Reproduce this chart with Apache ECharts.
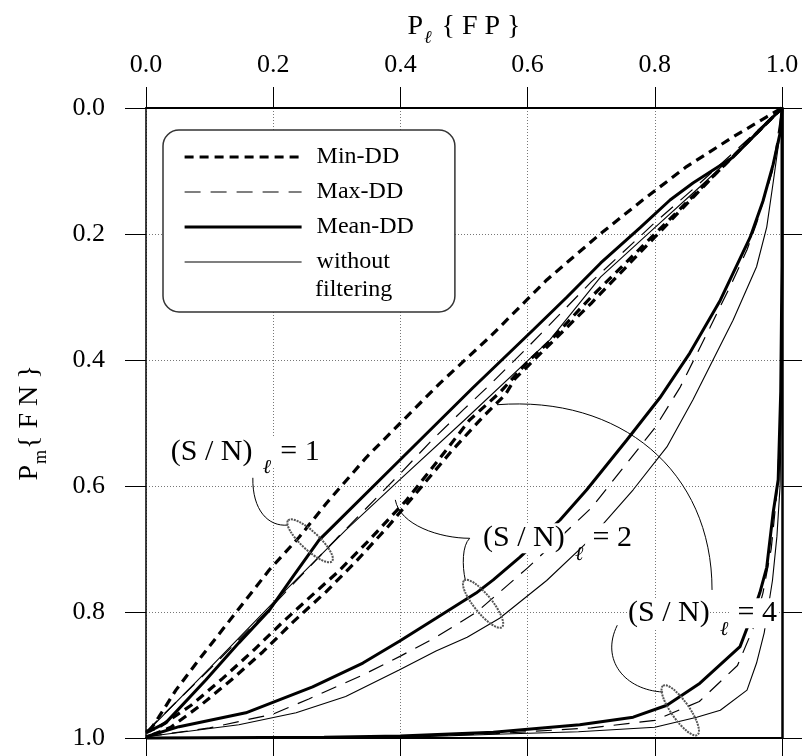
<!DOCTYPE html>
<html>
<head>
<meta charset="utf-8">
<title>P_m{FN} versus P_l{FP}</title>
<script src="https://cdn.jsdelivr.net/npm/echarts@6/dist/echarts.min.js"></script>
<style>
html, body { margin: 0; padding: 0; background: #fff; }
#chart { width: 802px; height: 756px; }
</style>
</head>
<body>
<div id="chart"></div>
<script>
// points are [P_l{FP}, P_m{FN}]
const tickLabels = ['0.0', '0.2', '0.4', '0.6', '0.8', '1.0'];
const legendNames = ['Min-DD', 'Max-DD', 'Mean-DD', 'without filtering'];

// (S/N)_l = 1
const minDD1 = [[0.005, 0.99], [0.02, 0.967], [0.047, 0.924], [0.083, 0.876], [0.142, 0.80], [0.194, 0.733], [0.241, 0.681], [0.284, 0.627], [0.347, 0.554], [0.40, 0.50], [0.462, 0.437], [0.541, 0.363], [0.63, 0.273], [0.714, 0.2], [0.781, 0.146], [0.85, 0.093], [0.923, 0.046], [0.976, 0.014], [1, 0]];
const maxDD1 = [[0, 0.99], [0.1, 0.891], [0.2, 0.789], [0.3, 0.683], [0.4, 0.58], [0.45, 0.527], [0.5, 0.478], [0.54, 0.44], [0.6, 0.38], [0.7, 0.276], [0.8, 0.182], [0.87, 0.12], [0.93, 0.065], [1, 0]];
const meanDD1 = [[0, 0.992], [0.031, 0.976], [0.094, 0.908], [0.146, 0.849], [0.194, 0.797], [0.231, 0.744], [0.272, 0.686], [0.4, 0.558], [0.514, 0.444], [0.609, 0.352], [0.662, 0.3], [0.715, 0.246], [0.777, 0.19], [0.824, 0.146], [0.86, 0.119], [0.923, 0.078], [0.97, 0.03], [1, 0]];
const noFilt1 = [[0, 0.992], [0.1, 0.889], [0.2, 0.785], [0.314, 0.67], [0.4, 0.589], [0.5, 0.496], [0.635, 0.368], [0.715, 0.268], [0.8, 0.19], [0.871, 0.125], [0.94, 0.06], [1, 0]];

// (S/N)_l = 2
const minDD2 = [[0, 0.99], [0.02, 0.983], [0.071, 0.948], [0.121, 0.905], [0.17, 0.86], [0.215, 0.816], [0.267, 0.768], [0.30, 0.738], [0.347, 0.69], [0.41, 0.622], [0.462, 0.556], [0.509, 0.495], [0.557, 0.451], [0.6, 0.403], [0.635, 0.37], [0.7, 0.3], [0.8, 0.2], [0.9, 0.1], [1, 0]];
const maxDD2 = [[0, 0.998], [0.1, 0.984], [0.2, 0.962], [0.256, 0.938], [0.341, 0.9], [0.4, 0.87], [0.456, 0.84], [0.52, 0.8], [0.6, 0.73], [0.7, 0.635], [0.8, 0.508], [0.84, 0.443], [0.887, 0.348], [0.92, 0.28], [0.945, 0.225], [0.96, 0.183], [0.985, 0.1], [1, 0]];
const meanDD2 = [[0, 0.998], [0.052, 0.982], [0.157, 0.96], [0.262, 0.919], [0.341, 0.881], [0.399, 0.846], [0.456, 0.81], [0.519, 0.77], [0.546, 0.749], [0.588, 0.713], [0.651, 0.654], [0.693, 0.606], [0.756, 0.527], [0.808, 0.46], [0.855, 0.389], [0.903, 0.305], [0.95, 0.205], [0.97, 0.148], [0.986, 0.09], [0.997, 0.04], [1, 0]];
const noFilt2 = [[0, 0.998], [0.146, 0.979], [0.236, 0.96], [0.314, 0.934], [0.398, 0.892], [0.456, 0.862], [0.505, 0.84], [0.556, 0.81], [0.63, 0.75], [0.693, 0.69], [0.766, 0.606], [0.819, 0.538], [0.86, 0.463], [0.923, 0.337], [0.96, 0.252], [0.976, 0.189], [0.986, 0.119], [0.997, 0.04], [1, 0]];

// (S/N)_l = 4
const minDD4 = [[0.01, 0.995], [0.039, 0.983], [0.086, 0.948], [0.134, 0.908], [0.184, 0.863], [0.231, 0.816], [0.283, 0.768], [0.33, 0.72], [0.38, 0.665], [0.43, 0.605], [0.48, 0.545], [0.53, 0.49], [0.565, 0.455], [0.58, 0.43], [0.62, 0.39], [0.7, 0.31], [0.8, 0.205], [0.9, 0.1], [1, 0]];
const maxDD4 = [[0, 1], [0.4, 0.998], [0.55, 0.993], [0.7, 0.984], [0.8, 0.972], [0.87, 0.942], [0.93, 0.885], [0.955, 0.825], [0.97, 0.77], [0.983, 0.7], [0.993, 0.6], [0.998, 0.45], [1, 0.2], [1, 0]];
const meanDD4 = [[0, 1], [0.28, 0.999], [0.4, 0.997], [0.546, 0.991], [0.682, 0.979], [0.766, 0.967], [0.819, 0.948], [0.871, 0.913], [0.934, 0.855], [0.954, 0.802], [0.965, 0.77], [0.976, 0.729], [0.986, 0.643], [0.994, 0.59], [0.998, 0.45], [1, 0.25], [1, 0]];
const noFilt4 = [[0, 1], [0.4, 0.999], [0.55, 0.994], [0.68, 0.99], [0.8, 0.983], [0.866, 0.967], [0.903, 0.956], [0.945, 0.924], [0.96, 0.881], [0.972, 0.833], [0.985, 0.75], [0.992, 0.68], [0.997, 0.6], [1, 0.4], [1, 0]];

// annotations (data coords)
const snLabels = [
  { k: '1', at: [0.039, 0.546] },
  { k: '2', at: [0.530, 0.683] },
  { k: '4', at: [0.758, 0.802] }
];
const rings = [
  { at: [0.258, 0.687], angle: -43 },
  { at: [0.530, 0.787], angle: -51 },
  { at: [0.840, 0.956], angle: -55 }
];
const leaders = [
  [[0.168, 0.587], [0.167, 0.638], [0.192, 0.665], [0.223, 0.662]],
  [[0.392, 0.622], [0.399, 0.662], [0.462, 0.683], [0.509, 0.683]],
  [[0.509, 0.683], [0.497, 0.694], [0.497, 0.727], [0.502, 0.749]],
  [[0.890, 0.765], [0.890, 0.575], [0.745, 0.456], [0.552, 0.471]],
  [[0.741, 0.821], [0.714, 0.876], [0.753, 0.924], [0.813, 0.927]]
];

const serif = "'Liberation Serif', 'DejaVu Serif', serif";
const lineStyles = {
  'Min-DD': { color: '#000', width: 3.2, type: [9, 6] },
  'Max-DD': { color: '#000', width: 1.2, type: [16, 10] },
  'Mean-DD': { color: '#000', width: 3, type: 'solid' },
  'without filtering': { color: '#000', width: 1.1, type: 'solid' }
};
const groups = [
  [minDD1, maxDD1, meanDD1, noFilt1],
  [minDD2, maxDD2, meanDD2, noFilt2],
  [minDD4, maxDD4, meanDD4, noFilt4]
];

let series = [];
groups.forEach(g => {
  g.forEach((d, i) => {
    series.push({
      name: legendNames[i],
      type: 'line',
      data: d,
      symbol: 'none',
      clip: false,
      silent: true,
      lineStyle: lineStyles[legendNames[i]]
    });
  });
});

const tickFmt = v => tickLabels[Math.round(v / 0.2)];

const chart = echarts.init(document.getElementById('chart'));
chart.setOption({
  animation: false,
  backgroundColor: '#fff',
  grid: { left: 146, right: 20, top: 108, bottom: 18 },
  legend: {
    orient: 'vertical',
    left: 163,
    top: 130,
    padding: [15, 41, 38, 20],
    itemWidth: 117,
    itemHeight: 24,
    itemGap: 11,
    borderColor: '#333',
    borderWidth: 1.5,
    borderRadius: 16,
    backgroundColor: '#fff',
    selectedMode: false,
    textStyle: { fontFamily: serif, fontSize: 24, color: '#000', padding: [0, 0, 0, 10] },
    formatter: n => (n === 'without filtering' ? 'without' : n),
    data: legendNames.map(n => ({ name: n, lineStyle: lineStyles[n], itemStyle: { opacity: 0 } }))
  },
  xAxis: [
    {
      type: 'value', position: 'top', min: 0, max: 1, interval: 0.2,
      name: 'P{s|ℓ} { F P }',
      nameLocation: 'middle',
      nameGap: 54,
      nameTextStyle: {
        fontFamily: serif, fontSize: 28, color: '#000', lineHeight: 40,
        rich: { s: { fontFamily: serif, fontSize: 18, fontStyle: 'italic', verticalAlign: 'bottom', lineHeight: 18, padding: [0, 3, 0, 1] } }
      },
      axisLine: { onZero: false, lineStyle: { color: '#000', width: 2 } },
      axisTick: { length: 21, lineStyle: { color: '#000', width: 1 } },
      axisLabel: { formatter: tickFmt, margin: 30, fontFamily: serif, fontSize: 26, color: '#000' },
      splitLine: { lineStyle: { color: '#777', width: 1, type: [1, 2] } }
    },
    {
      type: 'value', position: 'bottom', min: 0, max: 1, interval: 0.2,
      axisLine: { onZero: false, lineStyle: { color: '#000', width: 2 } },
      axisTick: { length: 21, lineStyle: { color: '#000', width: 1 } },
      axisLabel: { show: false },
      splitLine: { show: false }
    }
  ],
  yAxis: [
    {
      type: 'value', position: 'left', inverse: true, min: 0, max: 1, interval: 0.2,
      name: 'P{s|m}{ F N }',
      nameLocation: 'middle',
      nameRotate: 90,
      nameGap: 96,
      nameTextStyle: {
        fontFamily: serif, fontSize: 28, color: '#000', lineHeight: 40,
        rich: { s: { fontFamily: serif, fontSize: 18, verticalAlign: 'bottom', lineHeight: 18, padding: [0, 1, 0, 1] } }
      },
      axisLine: { onZero: false, lineStyle: { color: '#000', width: 1.5 } },
      axisTick: { length: 21, lineStyle: { color: '#000', width: 1 } },
      axisLabel: { formatter: tickFmt, margin: 41, fontFamily: serif, fontSize: 26, color: '#000' },
      splitLine: { lineStyle: { color: '#777', width: 1, type: [1, 2] } }
    },
    {
      type: 'value', position: 'right', inverse: true, min: 0, max: 1, interval: 0.2,
      axisLine: { onZero: false, lineStyle: { color: '#000', width: 2.5 } },
      axisTick: { length: 21, lineStyle: { color: '#000', width: 1 } },
      axisLabel: { show: false },
      splitLine: { show: false }
    }
  ],
  series: series
});

// annotations placed through the grid's own scales
const px = p => chart.convertToPixel({ gridIndex: 0 }, p);
let graphics = [];

graphics.push({
  type: 'text', x: 315, y: 290, z: 100,
  style: { text: 'filtering', fontFamily: serif, fontSize: 24, fill: '#000', verticalAlign: 'middle' }
});

leaders.forEach(c => {
  const a = px(c[0]), b = px(c[1]), d = px(c[2]), e = px(c[3]);
  graphics.push({
    type: 'bezierCurve', z: 90, silent: true,
    shape: { x1: a[0], y1: a[1], cpx1: b[0], cpy1: b[1], cpx2: d[0], cpy2: d[1], x2: e[0], y2: e[1] },
    style: { stroke: '#000', lineWidth: 1, fill: null }
  });
});

rings.forEach(r => {
  const c = px(r.at);
  graphics.push({
    type: 'ellipse', x: c[0], y: c[1], z: 90, silent: true,
    rotation: r.angle * Math.PI / 180,
    shape: { cx: 0, cy: 0, rx: 30, ry: 9 },
    style: { stroke: '#555', lineWidth: 2, fill: null, lineDash: [2, 1] }
  });
});

snLabels.forEach(l => {
  const p = px(l.at);
  graphics.push({
    type: 'group', x: p[0], y: p[1], z: 100,
    children: [
      { type: 'text', x: 0, y: 0, z: 100, style: { text: '(S / N)', fontFamily: serif, fontSize: 30, fill: '#000', verticalAlign: 'middle', backgroundColor: '#fff' } },
      { type: 'text', x: 92, y: 16, z: 100, style: { text: 'ℓ', fontFamily: serif, fontSize: 20, fontStyle: 'italic', fill: '#000', verticalAlign: 'middle' } },
      { type: 'text', x: 102, y: 0, z: 100, style: { text: ' = ' + l.k, fontFamily: serif, fontSize: 30, fill: '#000', verticalAlign: 'middle', backgroundColor: '#fff' } }
    ]
  });
});

chart.setOption({ graphic: graphics });
</script>
</body>
</html>
